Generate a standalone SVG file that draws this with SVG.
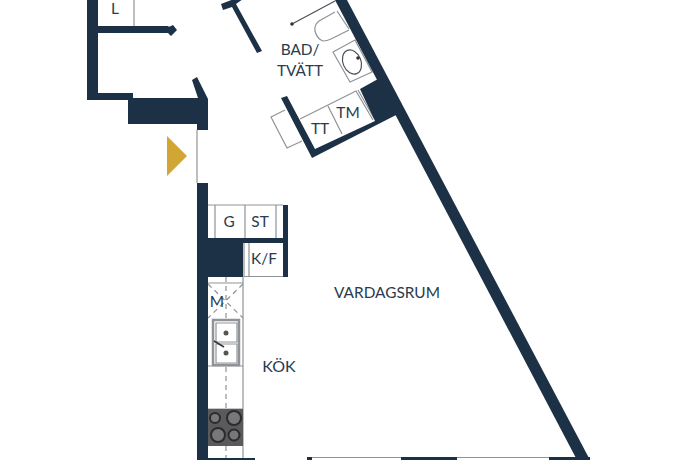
<svg xmlns="http://www.w3.org/2000/svg" width="690" height="460" viewBox="0 0 690 460">
<style>
.w{fill:#1c3145;stroke:none}
.l{fill:none;stroke:#8f9397;stroke-width:1.200}
.d{fill:none;stroke:#4a5056;stroke-width:1.200}
.t{font-family:"Lato","Liberation Sans",sans-serif;font-size:15.400px;fill:#2a3b4d;text-anchor:middle}
</style>
<rect width="690" height="460" fill="#fff"/>
<g id="fixtures">
<path class="l" d="M134 0V26"/>
<path class="l" d="M197 130V183"/>
<path class="d" d="M292 24L335 1"/>
<circle cx="292" cy="24" r="1.800" fill="#333"/>
<path class="l" d="M335 12L319 21Q314 25 315 31Q317 39 323 41Q327 41 331 39L349 30M337 11L349 29"/>
<path class="l" d="M333 52L355 40 372 72 350 82Z"/>
<ellipse cx="352" cy="62" rx="9" ry="12.500" transform="rotate(-22 352 62)" class="d"/>
<circle cx="358" cy="58" r="1.800" fill="#333"/>
<path class="l" d="M300 119L356 91 373 120M358 90L374 118M328 106L342 134M285 110L271 117 287 148 302 141"/>
<path class="l" d="M208 205H283M208 238.500H283M215 205V238M245 205V238M276 205V238"/>
<path class="l" d="M244 243V276.500H283M249 243V276"/>
<path class="l" d="M207 283H243M207 366H243M243 277V458M207 409H243"/>
<path fill="none" stroke="#8f9397" stroke-width="2.500" d="M213 320H239V365H213Z"/>
<path class="l" d="M216 323H237V342H216ZM216 344H237V363H216Z"/>
<circle cx="226" cy="333" r="2.500" fill="#555"/><circle cx="226" cy="353" r="2.500" fill="#555"/>
<path d="M214 341L224 347" stroke="#333" stroke-width="1.500"/>
<path class="l" stroke-dasharray="5 4" d="M208 284L243 318M243 284L208 318M226 277V319M226 367V409M226 446V458"/>
<rect x="207" y="409" width="36" height="37" fill="#5a5a5c"/>
<g fill="#77787a" stroke="#2b2b2d" stroke-width="2">
<circle cx="215" cy="418" r="5"/><circle cx="234" cy="418" r="7"/><circle cx="218" cy="435" r="7"/><circle cx="234" cy="435" r="5.500"/>
</g>
<path class="l" d="M312 457.500H401M457 457.500H549"/>
<path fill="#d2a634" d="M167 136L187 156 167 176Z"/>
</g>
<g id="walls">
<path class="w" d="M87 0H98V26H168V33H98V93H133V98H198L192 80 197 77 208 99V130H197V124H128V100H87Z"/>
<path class="w" d="M166 26.500H170L173 25 177 30 171 36 168 33H166Z"/>
<path class="w" d="M221 4L234 -1H243L236 4 262 51 257 53 232 7 223 10Z"/>
<path class="w" d="M197 183H208V238H283V243H243V277H208V458H255V460H197Z"/>
<path class="w" d="M283 205H288V277H283Z"/>
<path class="w" d="M335 0H347L590 460H577Z"/>
<path class="w" d="M360 89L378 79 398 114 312 158 281 98 287 96 315 149 375 121Z"/>
<path class="w" d="M307 457H312V460H307ZM401 457H457V460H401ZM549 457H590V460H549Z"/>
</g>
<g id="labels">
<text class="t" x="115" y="14">L</text>
<text class="t" x="300" y="55">BAD/</text>
<text class="t" x="300" y="76">TVÄTT</text>
<text class="t" x="320" y="134">TT</text>
<text class="t" x="348" y="118">TM</text>
<text class="t" x="229" y="227">G</text>
<text class="t" x="260" y="227">ST</text>
<text class="t" x="264" y="264">K/F</text>
<text class="t" x="217" y="307">M</text>
<text class="t" x="387" y="298">VARDAGSRUM</text>
<text class="t" x="279" y="372" style="font-size:16px">KÖK</text>
</g>
</svg>
